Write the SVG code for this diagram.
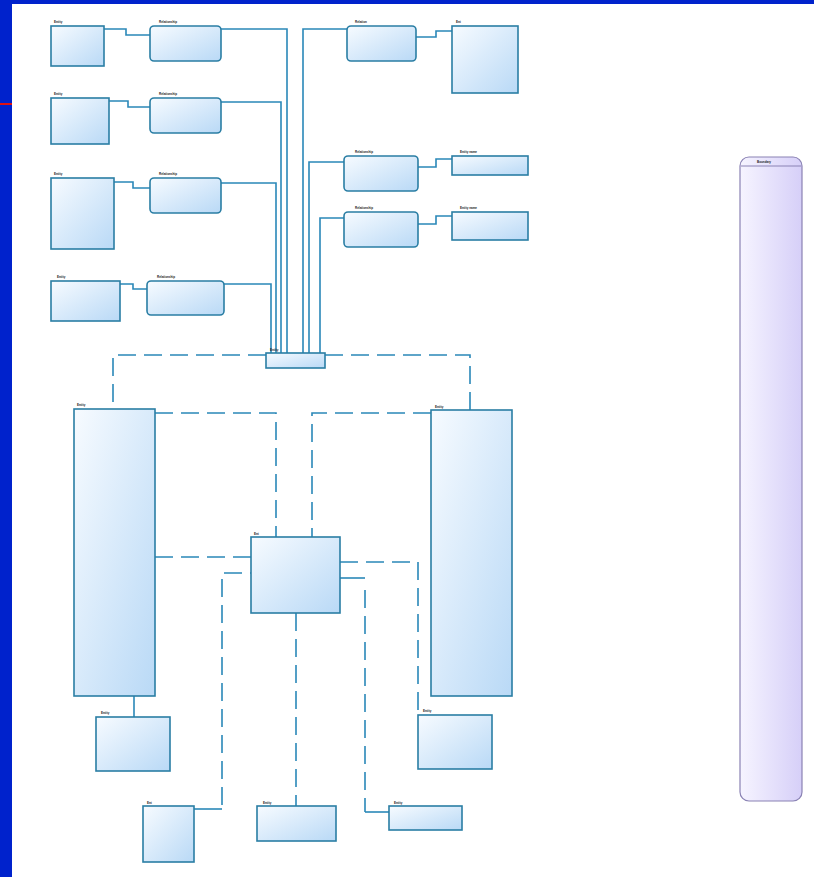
<svg xmlns="http://www.w3.org/2000/svg" width="814" height="877" viewBox="0 0 814 877">
<defs>
<linearGradient id="g" x1="0" y1="0" x2="1" y2="1">
<stop offset="0" stop-color="#f7fbff"/>
<stop offset="1" stop-color="#b9d9f6"/>
</linearGradient>
<linearGradient id="gp" x1="0" y1="0" x2="1" y2="0">
<stop offset="0" stop-color="#f6f4ff"/>
<stop offset="1" stop-color="#d6cff8"/>
</linearGradient>
</defs>
<style>
.n{fill:url(#g);stroke:#2a7ea4;stroke-width:1.6}
.c{fill:none;stroke:#2a88b8;stroke-width:1.6}
.d{fill:none;stroke:#2a88b8;stroke-width:1.6;stroke-dasharray:18 8}
.t{font-family:"Liberation Sans",Arial,sans-serif;font-size:3px;font-weight:bold;fill:#222}
</style>
<rect width="814" height="877" fill="#ffffff"/>
<rect x="0" y="0" width="814" height="4" fill="#0022cc"/>
<rect x="0" y="0" width="12" height="877" fill="#0022cc"/>
<rect x="0" y="103" width="12" height="2" fill="#dd1111"/>
<g id="connectors">
<polyline class="c" points="104,29 126,29 126,35 150,35"/>
<polyline class="c" points="221,29 287,29 287,353"/>
<polyline class="c" points="109,101 128,101 128,107 150,107"/>
<polyline class="c" points="221,102 281,102 281,353"/>
<polyline class="c" points="114,182 133,182 133,188 150,188"/>
<polyline class="c" points="221,183 276,183 276,353"/>
<polyline class="c" points="120,284 133,284 133,289 147,289"/>
<polyline class="c" points="224,284 271,284 271,353"/>
<polyline class="c" points="416,37 436,37 436,31 452,31"/>
<polyline class="c" points="347,29 303,29 303,353"/>
<polyline class="c" points="418,167 436,167 436,159 452,159"/>
<polyline class="c" points="344,162 309,162 309,353"/>
<polyline class="c" points="418,224 436,224 436,216 452,216"/>
<polyline class="c" points="344,218 320,218 320,353"/>
<polyline class="d" points="266,355 113,355 113,408"/>
<polyline class="d" points="325,355 470,355 470,410"/>
<polyline class="d" points="155,413 276,413 276,537"/>
<polyline class="d" points="431,413 312,413 312,537"/>
<polyline class="d" points="155,557 251,557"/>
<polyline class="c" points="194,809 222,809"/>
<polyline class="d" points="222,805 222,573 251,573"/>
<polyline class="d" points="340,562 418,562 418,715"/>
<polyline class="c" points="340,578 365,578"/>
<polyline class="d" points="365,590 365,812"/>
<polyline class="c" points="365,812 389,812"/>
<polyline class="d" points="296,613 296,806"/>
<polyline class="c" points="134,696 134,717"/>
</g>
<g id="a1"><rect class="n" x="51" y="26" width="53" height="40"/><text class="t" x="54" y="23">Entity</text></g>
<g id="a2"><rect class="n" x="150" y="26" width="71" height="35" rx="4"/><text class="t" x="159" y="23">Relationship</text></g>
<g id="b1"><rect class="n" x="51" y="98" width="58" height="46"/><text class="t" x="54" y="95">Entity</text></g>
<g id="b2"><rect class="n" x="150" y="98" width="71" height="35" rx="4"/><text class="t" x="159" y="95">Relationship</text></g>
<g id="c1"><rect class="n" x="51" y="178" width="63" height="71"/><text class="t" x="54" y="175">Entity</text></g>
<g id="c2"><rect class="n" x="150" y="178" width="71" height="35" rx="4"/><text class="t" x="159" y="175">Relationship</text></g>
<g id="d1"><rect class="n" x="51" y="281" width="69" height="40"/><text class="t" x="57" y="278">Entity</text></g>
<g id="d2"><rect class="n" x="147" y="281" width="77" height="34" rx="4"/><text class="t" x="157" y="278">Relationship</text></g>
<g id="e2"><rect class="n" x="347" y="26" width="69" height="35" rx="4"/><text class="t" x="355" y="23">Relation</text></g>
<g id="e3"><rect class="n" x="452" y="26" width="66" height="67"/><text class="t" x="456" y="23">Ent</text></g>
<g id="f2"><rect class="n" x="344" y="156" width="74" height="35" rx="4"/><text class="t" x="355" y="153">Relationship</text></g>
<g id="f3"><rect class="n" x="452" y="156" width="76" height="19"/><text class="t" x="460" y="153">Entity name</text></g>
<g id="g2"><rect class="n" x="344" y="212" width="74" height="35" rx="4"/><text class="t" x="355" y="209">Relationship</text></g>
<g id="g3"><rect class="n" x="452" y="212" width="76" height="28"/><text class="t" x="460" y="209">Entity name</text></g>
<g id="hub"><rect class="n" x="266" y="353" width="59" height="15"/><text class="t" x="270" y="351">Entity</text></g>
<g id="left"><rect class="n" x="74" y="409" width="81" height="287"/><text class="t" x="77" y="406">Entity</text></g>
<g id="right"><rect class="n" x="431" y="410" width="81" height="286"/><text class="t" x="435" y="408">Entity</text></g>
<g id="mid"><rect class="n" x="251" y="537" width="89" height="76"/><text class="t" x="254" y="535">Ent</text></g>
<g id="l2"><rect class="n" x="96" y="717" width="74" height="54"/><text class="t" x="101" y="714">Entity</text></g>
<g id="r2"><rect class="n" x="418" y="715" width="74" height="54"/><text class="t" x="423" y="712">Entity</text></g>
<g id="s1"><rect class="n" x="143" y="806" width="51" height="56"/><text class="t" x="147" y="804">Ent</text></g>
<g id="s2"><rect class="n" x="257" y="806" width="79" height="35"/><text class="t" x="263" y="804">Entity</text></g>
<g id="s3"><rect class="n" x="389" y="806" width="73" height="24"/><text class="t" x="394" y="804">Entity</text></g>
<g id="pill"><rect x="740" y="157" width="62" height="644" rx="9" fill="url(#gp)" stroke="#8a82b4" stroke-width="1.2"/><line x1="741" y1="166" x2="801" y2="166" stroke="#8a82b4" stroke-width="1"/><text class="t" x="757" y="163">Boundary</text></g>
</svg>
